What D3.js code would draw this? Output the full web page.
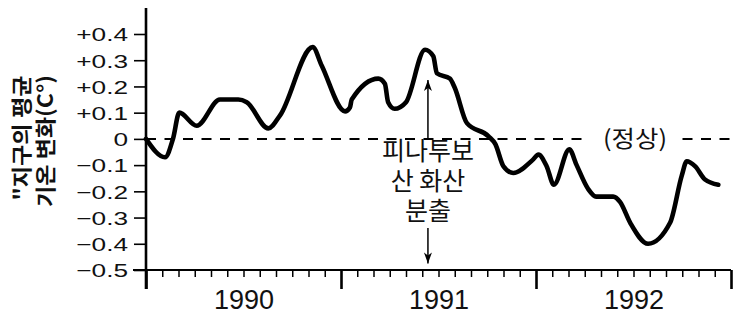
<!DOCTYPE html>
<html>
<head>
<meta charset="utf-8">
<script src="https://cdn.jsdelivr.net/npm/d3@7"></script>
<style>
  html, body { margin: 0; padding: 0; background: #fff; }
  svg { display: block; }
</style>
</head>
<body>
<svg id="chart" width="737" height="323"></svg>
<script>
// ---- data ----
const months = [0.0, 1.17, 1.66, 2.05, 3.12, 4.55, 5.68, 6.2, 7.53, 8.25, 10.26, 10.81,
  12.25, 12.55, 12.66, 14.3, 14.7, 14.9, 15.3, 16.0, 17.17, 17.68, 17.9, 18.7, 19.0,
  19.75, 21.08, 21.5, 22.0, 22.6, 23.8, 24.15, 24.66, 25.1, 26.05, 26.5, 27.2, 27.7,
  28.75, 29.17, 29.8, 30.9, 32.25, 32.97, 33.28, 33.8, 34.4, 35.22];
const anomaly = [0.00, -0.07, 0.0, 0.10, 0.05, 0.15, 0.15, 0.14, 0.04, 0.09, 0.35, 0.28,
  0.105, 0.12, 0.15, 0.23, 0.21, 0.14, 0.115, 0.14, 0.34, 0.315, 0.25, 0.23, 0.195,
  0.06, 0.01, -0.02, -0.105, -0.13, -0.08, -0.06, -0.105, -0.175, -0.04, -0.1, -0.19, -0.22,
  -0.22, -0.24, -0.32, -0.40, -0.32, -0.14, -0.085, -0.105, -0.155, -0.175];
const yTicks = [-0.5, -0.4, -0.3, -0.2, -0.1, 0, 0.1, 0.2, 0.3, 0.4];
const years = ["1990", "1991", "1992"];
const yearMid = [6, 18, 30];
const monthTicks = d3.range(0, 37);
const eruptionMonth = 17.35;
const annotationLines = ["피나투보", "산 화산", "분출"];
const normalLabel = "(정상)";
const yTitle = ["\"지구의 평균", "기온 변화(C°)"];

// ---- layout ----
const svg = d3.select("#chart");
const x = d3.scaleLinear().domain([0, 36]).range([146, 731]);
const y = d3.scaleLinear().domain([-0.5, 0.4]).range([270, 34]);

// zero dashed line
svg.append("line")
  .attr("x1", x(0)).attr("x2", 737)
  .attr("y1", y(0)).attr("y2", y(0))
  .attr("stroke", "#000").attr("stroke-width", 2)
  .attr("stroke-dasharray", "10,8.5");

// "(정상)" label with white background
const nl = svg.append("g");
nl.append("rect").attr("x", 588).attr("y", y(0) - 16).attr("width", 94).attr("height", 32).attr("fill", "#fff");
nl.append("text")
  .attr("x", 635).attr("y", y(0) + 8)
  .attr("text-anchor", "middle")
  .attr("font-family", "'Noto Sans CJK KR', sans-serif")
  .attr("font-size", 23)
  .attr("fill", "#111")
  .attr("textLength", 64)
  .attr("lengthAdjust", "spacingAndGlyphs")
  .text(normalLabel);

// y axis
const yAxis = d3.axisLeft(y).tickValues(yTicks).tickSize(12).tickPadding(0)
  .tickFormat(v => v === 0 ? "0" : (v > 0 ? "+" : "\u2212") + Math.abs(v).toFixed(1));
const gy = svg.append("g").attr("transform", `translate(${x(0)},0)`).call(yAxis);
gy.select(".domain").remove();
gy.selectAll(".tick line").attr("stroke", "#000").attr("stroke-width", 1.6);
const sx = 1.38;
gy.selectAll(".tick text")
  .attr("font-family", "'Liberation Sans', Arial, sans-serif")
  .attr("font-size", 19)
  .attr("fill", "#111")
  .attr("text-anchor", "end")
  .attr("x", -18 / sx)
  .attr("dy", "0.36em")
  .attr("transform", `scale(${sx},1)`);
svg.append("line")
  .attr("x1", x(0)).attr("x2", x(0)).attr("y1", 8).attr("y2", 289)
  .attr("stroke", "#000").attr("stroke-width", 2.6);

// x axis
svg.append("line")
  .attr("x1", 133).attr("x2", x(36)).attr("y1", y(-0.5)).attr("y2", y(-0.5))
  .attr("stroke", "#000").attr("stroke-width", 2.2);
const xAxis = d3.axisBottom(x).tickValues(monthTicks).tickSizeOuter(0).tickFormat("");
const gx = svg.append("g").attr("transform", `translate(0,${y(-0.5)})`).call(xAxis);
gx.select(".domain").remove();
gx.selectAll(".tick line")
  .attr("stroke", "#000")
  .attr("y2", d => d % 12 === 0 ? 19 : 7)
  .attr("stroke-width", d => d % 12 === 0 ? 2.6 : 1.5);
const yearAxis = d3.axisBottom(x).tickValues(yearMid).tickSize(0).tickPadding(0)
  .tickFormat((d, i) => years[i]);
const gyr = svg.append("g").attr("transform", `translate(0,${y(-0.5)})`).call(yearAxis);
gyr.select(".domain").remove();
gyr.selectAll(".tick text")
  .attr("font-family", "'Liberation Sans', Arial, sans-serif")
  .attr("font-size", 27)
  .attr("fill", "#111")
  .attr("y", 39).attr("dy", 0);

// data line
const pts = months.map((m, i) => [m, anomaly[i]]);
const line = d3.line().x(d => x(d[0])).y(d => y(d[1])).curve(d3.curveMonotoneX);
svg.append("path")
  .attr("d", line(pts))
  .attr("fill", "none")
  .attr("stroke", "#000")
  .attr("stroke-width", 4.6)
  .attr("stroke-linejoin", "round")
  .attr("stroke-linecap", "round");

// annotation arrows
const ax = x(eruptionMonth);
function arrow(y1, y2) {
  svg.append("line").attr("x1", ax).attr("x2", ax).attr("y1", y1).attr("y2", y2)
    .attr("stroke", "#000").attr("stroke-width", 1.5);
  const dir = y2 < y1 ? 1 : -1;
  svg.append("path")
    .attr("d", `M${ax},${y2} L${ax - 4},${y2 + dir * 11} L${ax},${y2 + dir * 8} L${ax + 4},${y2 + dir * 11} Z`)
    .attr("fill", "#000");
}
arrow(y(0), y(0.225));
arrow(y(-0.34), y(-0.475));

// annotation text
const at = svg.append("text")
  .attr("text-anchor", "middle")
  .attr("font-family", "'Noto Sans CJK KR', sans-serif")
  .attr("font-size", 25)
  .attr("fill", "#111");
annotationLines.forEach((t, i) => {
  at.append("tspan").attr("x", ax).attr("y", 160 + i * 30).text(t);
});

// y title
const tl = [[29, 125], [53, 132]];
const tc = [138, 141];
yTitle.forEach((t, i) => {
  svg.append("text")
    .attr("transform", `translate(${tl[i][0]},${tc[i]}) rotate(-90)`)
    .attr("text-anchor", "middle")
    .attr("font-family", "'Noto Sans CJK KR', sans-serif")
    .attr("font-weight", "bold")
    .attr("font-size", 21)
    .attr("fill", "#111")
    .attr("textLength", tl[i][1])
    .attr("lengthAdjust", "spacingAndGlyphs")
    .text(t);
});
</script>
</body>
</html>
